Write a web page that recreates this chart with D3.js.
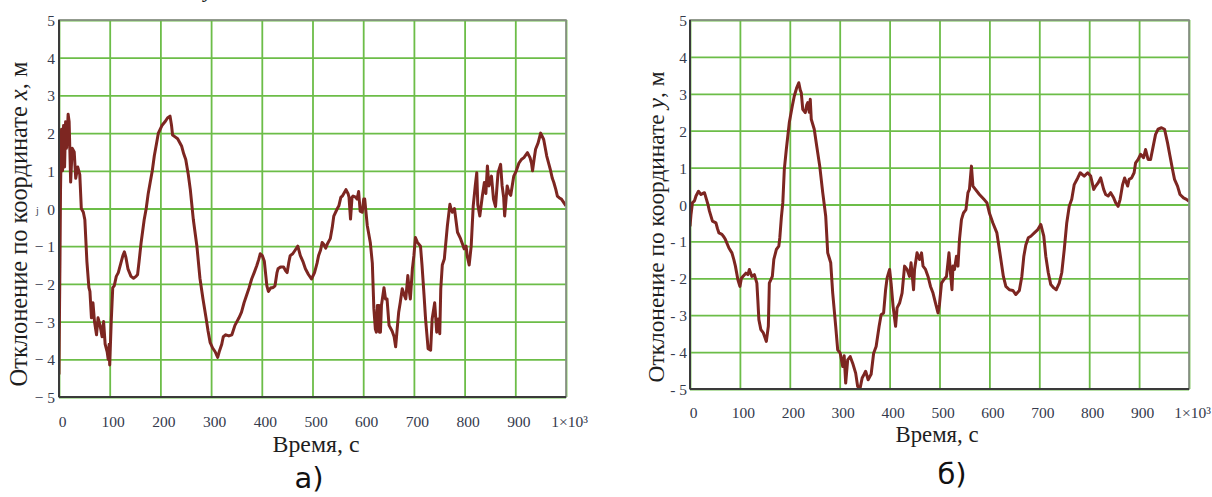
<!DOCTYPE html>
<html><head><meta charset="utf-8">
<script src="https://cdn.jsdelivr.net/npm/d3@7/dist/d3.min.js"></script>
</head><body style="margin:0;background:#fff;overflow:hidden">
<svg id="c" width="1212" height="497" font-family="Liberation Serif"></svg>
<script>
// ---- data: panel а) deviation along x ----
const xTime = [0,1,2,3,5,7,9,11,13,15,18,20,23,26,30,33,37,41,44,48,51,55,59,61,64,67,70,74,77,81,85,88,91,95,97,99,100,103,106,109,113,117,122,126,129,132,136,142,147,152,155,158,162,168,172,176,180,184,188,192,196,203,209,214,219,222,224,229,234,238,242,246,250,255,259,265,272,278,284,290,294,298,303,308,313,316,321,324,329,335,341,347,355,360,365,370,375,380,385,390,394,397,401,405,410,413,418,422,426,430,432,437,443,447,450,453,456,461,466,471,476,481,486,492,498,504,509,512,516,519,522,526,529,535,539,542,549,552,556,559,566,570,572,575,578,580,585,588,591,594,598,601,603,608,614,618,621,624,626,628,631,632,634,636,641,644,647,651,657,661,664,667,670,673,677,681,684,688,691,693,697,700,703,707,713,716,720,723,728,733,736,741,745,748,751,753,756,760,766,771,774,776,780,786,792,796,799,803,805,809,813,817,821,824,826,830,835,839,842,845,848,853,857,861,864,866,871,874,877,879,884,888,891,897,902,907,912,917,924,929,932,934,937,940,945,950,956,962,969,973,976,980,983,987,991,996,1000];
const xDev = [-4.4,-2.7,-1.3,0.5,2.1,1.0,2.2,1.1,2.3,1.6,2.5,2.3,0.7,1.6,1.5,0.8,1.1,0.9,0.0,-0.1,-0.3,-1.4,-2.1,-2.2,-2.9,-2.5,-3.0,-3.35,-2.9,-3.1,-3.4,-3.0,-3.6,-3.8,-4.0,-3.6,-4.15,-3.0,-2.1,-2.05,-1.8,-1.7,-1.45,-1.25,-1.15,-1.3,-1.6,-1.8,-1.85,-1.8,-1.75,-1.4,-0.9,-0.3,0.0,0.4,0.7,1.0,1.4,1.7,2.0,2.2,2.3,2.4,2.45,2.2,1.95,1.9,1.85,1.75,1.65,1.45,1.3,0.9,0.5,-0.3,-1.0,-1.85,-2.4,-2.9,-3.25,-3.55,-3.7,-3.8,-3.95,-3.8,-3.6,-3.4,-3.35,-3.38,-3.35,-3.1,-2.9,-2.75,-2.5,-2.3,-2.1,-1.87,-1.7,-1.52,-1.35,-1.2,-1.25,-1.4,-2.05,-2.2,-2.1,-2.1,-2.05,-1.7,-1.6,-1.55,-1.55,-1.65,-1.7,-1.45,-1.25,-1.2,-1.1,-1.0,-1.25,-1.4,-1.6,-1.75,-1.87,-1.7,-1.45,-1.25,-1.1,-0.9,-0.95,-1.05,-0.95,-0.8,-0.5,-0.2,0.0,0.07,0.3,0.33,0.5,0.4,0.3,-0.28,0.3,0.33,0.3,0.25,0.45,-0.07,-0.1,0.25,0.25,-0.45,-0.9,-1.45,-2.65,-3.2,-3.28,-2.57,-2.57,-3.28,-3.28,-2.57,-2.1,-2.4,-2.4,-3.1,-3.25,-3.4,-3.67,-3.2,-2.75,-2.5,-2.13,-2.3,-2.4,-1.78,-2.2,-2.4,-1.6,-1.25,-0.77,-0.9,-1.0,-1.5,-2.3,-2.93,-3.72,-3.76,-2.93,-2.5,-3.28,-2.93,-3.32,-2.13,-1.5,-1.34,-0.46,0.11,-0.05,-0.1,0.0,-0.63,-0.8,-0.95,-1.07,-1.0,-1.25,-1.5,-1.0,0.07,0.6,0.95,0.1,-0.2,0.33,0.69,0.4,1.13,0.6,0.86,0.25,0.05,0.6,0.95,1.17,0.6,0.3,-0.2,0.6,0.4,0.35,0.86,1.0,1.2,1.3,1.35,1.48,1.35,1.2,1.0,1.3,1.57,1.74,2.0,1.83,1.39,1.04,0.8,0.69,0.5,0.33,0.28,0.25,0.15,0.07];

// ---- data: panel б) deviation along y ----
const yTime = [0,2,5,9,12,17,22,26,29,33,36,39,45,52,55,58,64,68,71,78,84,88,91,96,100,103,106,112,116,119,124,129,134,136,138,142,147,150,153,157,159,165,168,173,178,180,183,186,189,193,199,205,209,214,218,221,223,226,231,234,236,239,241,243,249,254,260,266,272,276,282,286,292,296,301,306,309,312,316,321,326,332,336,341,345,349,352,357,361,363,368,373,379,383,388,392,395,400,403,407,412,415,420,425,430,435,440,443,448,450,455,460,464,467,472,477,482,487,492,497,500,504,508,514,519,522,525,527,530,534,537,540,544,548,553,557,560,564,567,572,580,589,595,600,607,615,621,628,633,640,647,653,660,665,669,673,678,683,690,697,703,709,713,718,723,729,734,740,745,750,755,760,765,770,777,782,790,797,803,809,813,818,823,829,833,838,843,849,853,858,862,867,871,877,880,885,890,893,898,903,909,913,918,923,929,933,938,945,951,957,962,967,971,977,982,989,995,1000];
const yDev = [-0.59,-0.27,0.05,0.1,0.23,0.36,0.27,0.3,0.32,0.14,0.0,-0.18,-0.45,-0.5,-0.65,-0.77,-0.81,-0.88,-0.95,-1.18,-1.31,-1.5,-1.67,-2.04,-2.22,-2.0,-1.95,-1.86,-1.9,-1.76,-1.95,-1.9,-2.13,-2.6,-3.12,-3.39,-3.48,-3.6,-3.71,-3.3,-2.13,-1.95,-1.49,-1.22,-1.13,-0.9,-0.36,0.05,0.95,1.49,2.22,2.67,2.94,3.17,3.3,3.1,3.03,2.58,2.49,2.7,2.76,2.5,2.85,2.31,2.04,1.58,1.04,0.32,-0.32,-1.31,-1.58,-2.4,-3.3,-3.94,-4.03,-4.39,-4.1,-4.84,-4.21,-4.12,-4.3,-4.57,-4.93,-4.97,-4.7,-4.6,-4.52,-4.75,-4.65,-4.6,-4.03,-3.85,-3.3,-2.99,-2.94,-2.31,-1.99,-1.76,-2.13,-2.76,-3.3,-2.8,-2.67,-2.4,-1.67,-1.76,-1.95,-1.58,-2.31,-1.76,-1.31,-1.49,-1.31,-1.67,-1.76,-1.95,-2.22,-2.4,-2.67,-2.94,-2.7,-2.13,-2.05,-1.95,-1.31,-1.85,-2.31,-1.67,-1.76,-1.4,-1.67,-0.95,-0.41,-0.23,-0.14,0.32,0.41,1.04,0.5,0.41,0.27,0.14,0.05,-0.23,-0.5,-0.77,-1.31,-1.95,-2.22,-2.31,-2.33,-2.44,-2.33,-1.95,-1.4,-1.1,-0.9,-0.86,-0.77,-0.68,-0.54,-0.86,-1.4,-1.85,-2.17,-2.26,-2.31,-2.13,-1.85,-1.22,-0.5,-0.05,0.14,0.54,0.72,0.86,0.77,0.86,0.77,0.41,0.5,0.59,0.72,0.41,0.27,0.23,0.32,0.18,0.05,-0.05,0.14,0.54,0.72,0.5,0.68,0.72,0.86,1.13,1.22,1.36,1.27,1.49,1.22,1.22,1.63,1.9,2.04,2.08,2.04,1.67,1.31,0.95,0.68,0.5,0.27,0.18,0.14,0.09];

// ---- ticks / labels ----
const timeTicks = [0,100,200,300,400,500,600,700,800,900,1000];
const timeTickLabels = ["0","100","200","300","400","500","600","700","800","900","1×10³"];
const devTicks = [-5,-4,-3,-2,-1,0,1,2,3,4,5];
const devTickLabelsA = ["− 5","− 4","− 3","− 2","− 1","0","1","2","3","4","5"];
const devTickLabelsB = ["- 5","- 4","- 3","- 2","- 1","0","1","2","3","4","5"];

const GRID = "#6cbd48", LINE = "#7d2621", TICKC = "#343a4c";
const SERIF = "Liberation Serif";
const svg = d3.select("#c");

function fitText(sel, len){
  const fs = parseFloat(sel.attr("font-size"));
  const l = sel.node().getComputedTextLength(); sel.attr("font-size", fs*len/l);
}

function panel(o){
  const g = svg.append("g").attr("font-family",SERIF);
  const x = d3.scaleLinear().domain([0,1000]).range([o.l,o.r]);
  const y = d3.scaleLinear().domain([-5,5]).range([o.b,o.t]);
  const cid = "clip"+o.id;
  g.append("clipPath").attr("id",cid).append("rect").attr("x",o.l).attr("y",o.t-2).attr("width",o.r-o.l).attr("height",o.b-o.t+2);
  // grid
  g.append("g").attr("transform",`translate(0,${o.b})`)
    .call(d3.axisBottom(x).tickValues(timeTicks).tickSize(-(o.b-o.t)).tickFormat(""))
    .call(s=>{s.select(".domain").remove(); s.selectAll("line").attr("stroke",GRID).attr("stroke-width",1.8);});
  g.append("g").attr("transform",`translate(${o.l},0)`)
    .call(d3.axisLeft(y).tickValues(devTicks).tickSize(-(o.r-o.l)).tickFormat(""))
    .call(s=>{s.select(".domain").remove(); s.selectAll("line").attr("stroke",GRID).attr("stroke-width",1.8);});
  // series
  const idx = d3.range(o.t_.length);
  g.append("path").datum(idx).attr("clip-path",`url(#${cid})`)
    .attr("fill","none").attr("stroke",LINE).attr("stroke-width",3).attr("stroke-linejoin","round")
    .attr("d", d3.line().x(i=>x(o.t_[i])).y(i=>y(o.v_[i])));
  // frame
  g.append("rect").attr("x",o.l).attr("y",o.t).attr("width",o.r-o.l).attr("height",o.b-o.t)
    .attr("fill","none").attr("stroke","#8a8a8a").attr("stroke-width",1.6);
  g.append("line").attr("x1",o.l).attr("x2",o.l).attr("y1",o.t).attr("y2",o.b).attr("stroke","#3a3a3a").attr("stroke-width",2);
  g.append("line").attr("x1",o.l).attr("x2",o.r).attr("y1",o.b).attr("y2",o.b).attr("stroke","#3a3a3a").attr("stroke-width",2);
  // x tick labels
  g.append("g").attr("transform",`translate(0,${o.b})`)
    .call(d3.axisBottom(x).tickValues(timeTicks).tickSize(0).tickFormat((d,i)=>timeTickLabels[i]))
    .call(s=>{s.select(".domain").remove(); s.attr("font-family",SERIF).attr("font-size",o.tickFs);
      s.selectAll("text").attr("dy",null).attr("y",o.xlabDy).attr("dx",3)
       .attr("font-family",SERIF).attr("font-size",o.tickFs).attr("fill",TICKC);});
  // y tick labels
  g.append("g").attr("transform",`translate(${o.l},0)`)
    .call(d3.axisLeft(y).tickValues(devTicks).tickSize(0).tickPadding(o.ylabPad).tickFormat((d,i)=>o.ylabels[i]))
    .call(s=>{s.select(".domain").remove(); s.attr("font-family",SERIF).attr("font-size",o.tickFs);
      s.selectAll("text").attr("dy","0.36em")
       .attr("font-family",SERIF).attr("font-size",o.tickFs).attr("fill",TICKC).style("white-space","pre");});
  // axis titles
  const xt = g.append("text").attr("x",o.xtX).attr("y",o.xtY).attr("text-anchor","middle")
    .attr("font-family",SERIF).attr("font-size",22).attr("fill","#1e1e1e").text("Время, с");
  fitText(xt,o.xtLen);
  const yt = g.append("text").attr("transform",`translate(${o.ytX},${o.ytY}) rotate(-90)`).attr("text-anchor","middle")
    .attr("font-family",SERIF).attr("font-size",22).attr("fill","#1e1e1e");
  yt.append("tspan").text("Отклонение по координате ");
  yt.append("tspan").attr("font-style","italic").text(o.coord);
  yt.append("tspan").text(", м");
  fitText(yt,o.ytLen);
  // panel letter
  g.append("text").attr("x",o.capX).attr("y",o.capY).attr("text-anchor","middle")
    .attr("font-family","DejaVu Sans").attr("font-size",29).attr("fill","#111").text(o.cap);
}

panel({id:"a", l:59, r:566, t:20, b:397, t_:xTime, v_:xDev, ylabels:devTickLabelsA, coord:"x",
  tickFs:15.5, xlabDy:30, ylabPad:4, xtX:316, xtY:452, xtLen:87, ytX:27, ytY:224, ytLen:325,
  cap:"а)", capX:309, capY:488});
panel({id:"b", l:690, r:1189, t:20, b:389, t_:yTime, v_:yDev, ylabels:devTickLabelsB, coord:"y",
  tickFs:15.5, xlabDy:29, ylabPad:3, xtX:937, xtY:442, xtLen:83, ytX:664, ytY:227, ytLen:311,
  cap:"б)", capX:952, capY:484});

// stray marks visible in the source image
svg.append("text").attr("x",36).attr("y",214).attr("font-family",SERIF).attr("font-size",10).attr("fill",TICKC).text("j");
svg.append("text").attr("x",204).attr("y",-3).attr("font-family",SERIF).attr("font-style","italic").attr("font-size",22).attr("fill","#222").text("у");
</script>
</body></html>
